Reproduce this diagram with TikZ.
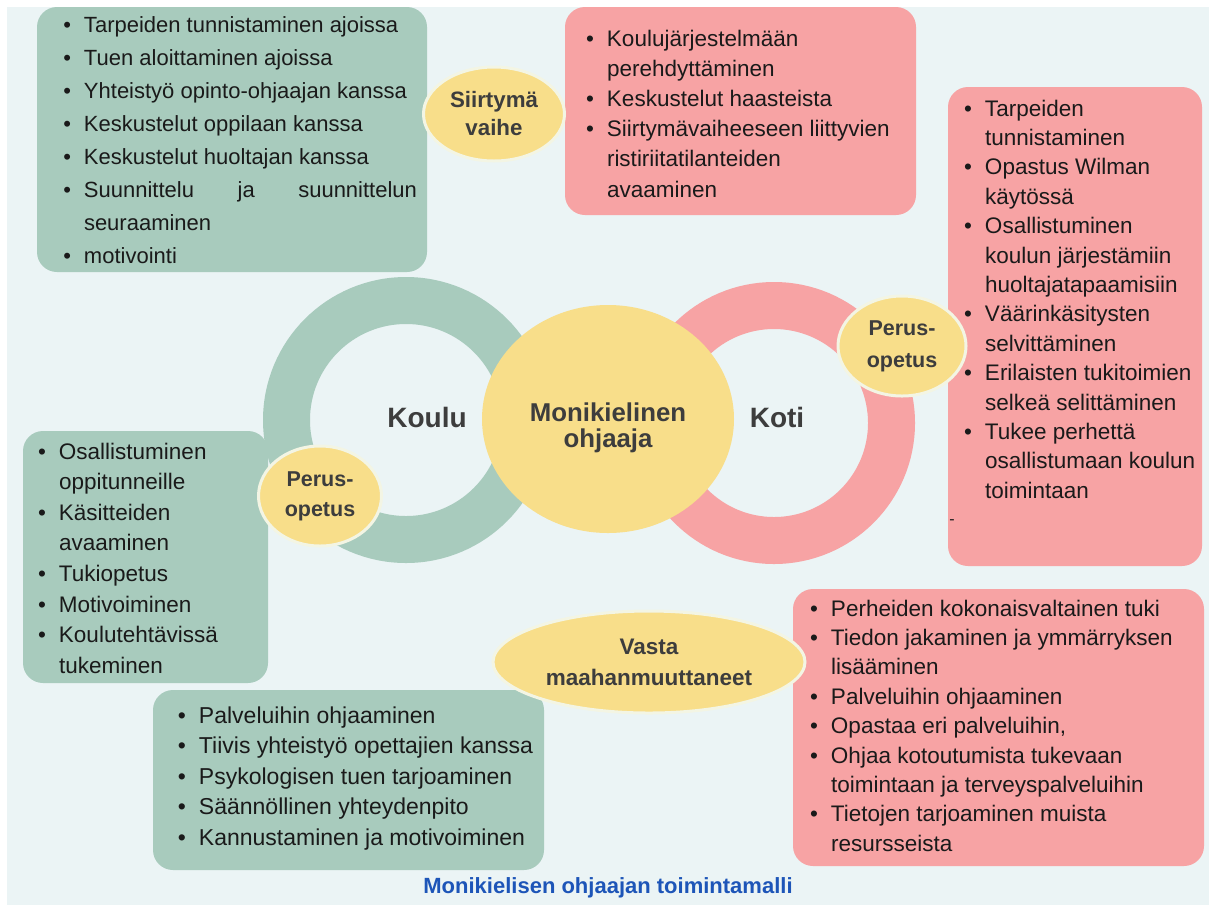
\documentclass[tikz,border=0pt]{standalone}
\usepackage{fontspec}
\setmainfont{Liberation Sans}
\usetikzlibrary{shapes.geometric}
\definecolor{panelbg}{HTML}{EBF4F5}
\definecolor{sage}{HTML}{A8CBBD}
\definecolor{rose}{HTML}{F7A3A4}
\definecolor{sun}{HTML}{F8DE8A}
\definecolor{rim}{HTML}{F3F5E4}
\definecolor{lbl}{HTML}{3D3D3D}
\definecolor{capblue}{HTML}{1D55B8}
\definecolor{ink}{HTML}{1A1A1A}
\newcommand\bul{\llap{\textbullet\hspace{13pt}}}
\newcommand\fst{\rule{0pt}{20pt}}
\begin{document}
\begin{tikzpicture}[x=1pt,y=-1pt,
  card/.style={rounded corners=20pt, inner sep=0pt, outer sep=0pt},
  greencard/.style={card, fill=sage},
  rosecard/.style={card, fill=rose},
  listtext/.style={anchor=north west, inner sep=0pt, outer sep=0pt, align=left, text=ink},
  blob/.style={ellipse, fill=sun, draw=rim, line width=3pt, inner sep=0pt, text=lbl, align=center, font=\bfseries\fontsize{22}{30}\selectfont},
  bigword/.style={text=lbl, inner sep=0pt, font=\bfseries\fontsize{28}{30}\selectfont},
]
\useasboundingbox (0,0) rectangle (1209,906);
\fill[white] (0,0) rectangle (1209,906);
\fill[panelbg] (7,7) rectangle (1209,905);

% rings
\draw[sage, line width=47pt] (406,420) circle[radius=119.5];
\draw[rose, line width=47pt] (774,423) circle[radius=117.5];

% cards
\node[greencard, minimum width=390pt, minimum height=265pt] (boxA) at (232,139.5) {};
\node[rosecard, minimum width=351pt, minimum height=208pt] (boxB) at (740.5,111) {};
\node[rosecard, minimum width=254pt, minimum height=479pt] (boxC) at (1075,326.5) {};
\node[greencard, minimum width=245pt, minimum height=252pt] (boxD) at (145.5,557) {};
\node[greencard, minimum width=391pt, minimum height=180pt] (boxE) at (348.5,780) {};
\node[rosecard, minimum width=411pt, minimum height=277pt] (boxF) at (998.5,727.5) {};

% list texts
\node[listtext, font=\fontsize{22}{33.1}\selectfont] (tA) at (84,12) {%
\fst\bul Tarpeiden tunnistaminen ajoissa\\
\bul Tuen aloittaminen ajoissa\\
\bul Yhteistyö opinto-ohjaajan kanssa\\
\bul Keskustelut oppilaan kanssa\\
\bul Keskustelut huoltajan kanssa\\
\bul \makebox[333pt][l]{Suunnittelu\hfill ja\hfill suunnittelun}\\
seuraaminen\\
\bul motivointi};

\node[listtext, font=\fontsize{22.5}{30.2}\selectfont] (tB) at (607,26) {%
\fst\bul Koulujärjestelmään\\
perehdyttäminen\\
\bul Keskustelut haasteista\\
\bul Siirtymävaiheeseen liittyvien\\
ristiriitatilanteiden\\
avaaminen};

\node[listtext, font=\fontsize{22.5}{29.4}\selectfont] (tC) at (985,96) {%
\fst\bul Tarpeiden\\
tunnistaminen\\
\bul Opastus Wilman\\
käytössä\\
\bul Osallistuminen\\
koulun järjestämiin\\
huoltajatapaamisiin\\
\bul Väärinkäsitysten\\
selvittäminen\\
\bul Erilaisten tukitoimien\\
selkeä selittäminen\\
\bul Tukee perhettä\\
osallistumaan koulun\\
toimintaan};
\node[text=ink, inner sep=0pt, font=\fontsize{16}{16}\selectfont] (dash) at (952,522) {-};

\node[listtext, font=\fontsize{22.5}{30.6}\selectfont] (tD) at (59,439) {%
\fst\bul Osallistuminen\\
oppitunneille\\
\bul Käsitteiden\\
avaaminen\\
\bul Tukiopetus\\
\bul Motivoiminen\\
\bul Koulutehtävissä\\
tukeminen};

\node[listtext, font=\fontsize{23}{30.5}\selectfont] (tE) at (199,703) {%
\fst\bul Palveluihin ohjaaminen\\
\bul Tiivis yhteistyö opettajien kanssa\\
\bul Psykologisen tuen tarjoaminen\\
\bul Säännöllinen yhteydenpito\\
\bul Kannustaminen ja motivoiminen};

\node[listtext, font=\fontsize{22.5}{29.4}\selectfont] (tF) at (831,596) {%
\fst\bul Perheiden kokonaisvaltainen tuki\\
\bul Tiedon jakaminen ja ymmärryksen\\
lisääminen\\
\bul Palveluihin ohjaaminen\\
\bul Opastaa eri palveluihin,\\
\bul Ohjaa kotoutumista tukevaan\\
toimintaan ja terveyspalveluihin\\
\bul Tietojen tarjoaminen muista\\
resursseista};

% centre
\node[ellipse, fill=sun, inner sep=0pt, minimum width=252pt, minimum height=228pt] (centre) at (608,419) {};
\node[text=lbl, inner sep=0pt, align=center, font=\bfseries\fontsize{25.8}{26}\selectfont] (centretext) at (608,428) {Monikielinen\\ohjaaja};
\node[bigword] (koulu) at (427,417) {Koulu};
\node[bigword] (koti) at (777,417) {Koti};

% label ellipses
\node[blob, minimum width=141pt, minimum height=94pt, font=\bfseries\fontsize{22.3}{28}\selectfont] (siirtyma) at (494,114) {Siirtymä\\vaihe};
\node[blob, minimum width=123pt, minimum height=100pt, font=\bfseries\fontsize{21.5}{30}\selectfont] (perusL) at (320,496) {Perus-\\opetus};
\node[blob, minimum width=128pt, minimum height=100pt, font=\bfseries\fontsize{21.5}{32}\selectfont] (perusR) at (902,346) {Perus-\\opetus};
\node[blob, minimum width=312pt, minimum height=102pt, font=\bfseries\fontsize{22.5}{31}\selectfont] (vasta) at (649,662) {Vasta\\maahanmuuttaneet};

% caption
\node[text=capblue, inner sep=0pt, font=\bfseries\fontsize{22}{24}\selectfont] (caption) at (608,888) {Monikielisen ohjaajan toimintamalli};
\end{tikzpicture}
\end{document}
